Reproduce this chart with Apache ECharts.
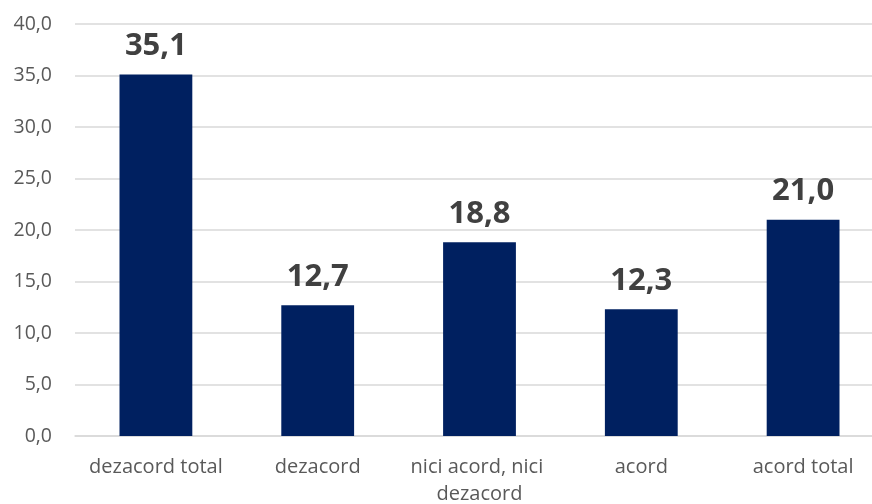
<!DOCTYPE html>
<html>
<head>
<meta charset="utf-8">
<script src="https://cdn.jsdelivr.net/npm/echarts@6/dist/echarts.min.js"></script>
<style>html,body{margin:0;padding:0;background:#fff}#c{width:872px;height:504px}</style>
</head>
<body>
<div id="c"></div>
<script>
var categories = ['dezacord total', 'dezacord', 'nici acord, nici dezacord', 'acord', 'acord total'];
var values = [35.1, 12.7, 18.8, 12.3, 21.0];
var yMin = 0, yMax = 40, yStep = 5;

var chart = echarts.init(document.getElementById('c'));
function fmt(v){ return Number(v).toFixed(1).replace('.', ','); }
var FF = '"Open Sans", sans-serif';
chart.setOption({
  animation: false,
  grid: { left: 75, top: 24, width: 809, height: 412, containLabel: false, outerBoundsMode: 'none' },
  xAxis: {
    type: 'category',
    data: categories,
    axisLine: { show: true, lineStyle: { color: '#d9d9d9', width: 1.5 } },
    axisTick: { show: false },
    axisLabel: {
      color: '#595959', fontFamily: FF, fontSize: 20,
      margin: 18, lineHeight: 27, width: 160, overflow: 'break', interval: 0
    }
  },
  yAxis: {
    type: 'value', min: yMin, max: yMax, interval: yStep,
    axisLine: { show: false }, axisTick: { show: false },
    splitLine: { lineStyle: { color: '#d9d9d9', width: 1.5 } },
    axisLabel: { color: '#595959', fontFamily: FF, fontSize: 19.5, margin: 23, formatter: fmt }
  },
  series: [{
    type: 'bar',
    data: values,
    barWidth: '45%',
    itemStyle: { color: '#002060' },
    label: {
      show: true, position: 'top', distance: 13,
      color: '#404040', fontFamily: FF, fontWeight: 'bold', fontSize: 31,
      formatter: function(p){ return fmt(p.value); }
    }
  }]
});
</script>
</body>
</html>
